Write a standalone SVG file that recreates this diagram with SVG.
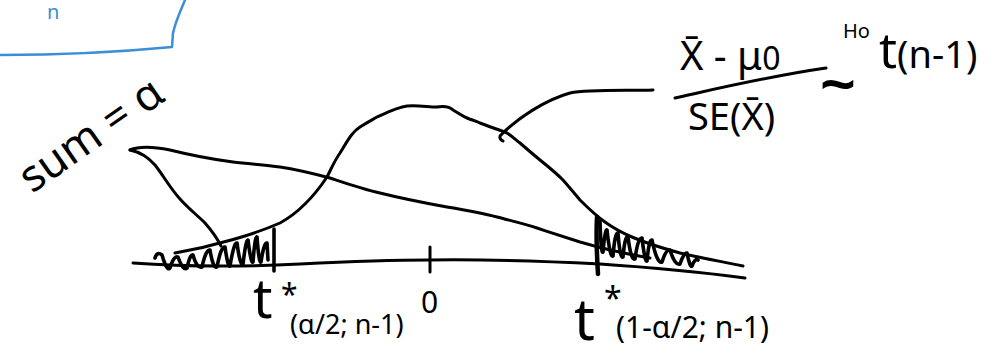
<svg xmlns="http://www.w3.org/2000/svg" width="1003" height="360" viewBox="0 0 1003 360">
<style>
.ink{fill:none;stroke:#000;stroke-width:3;stroke-linecap:round;stroke-linejoin:round}
.hatch{fill:none;stroke:#000;stroke-width:3.6;stroke-linecap:round;stroke-linejoin:round}
.blue{fill:none;stroke:#3a8fd6;stroke-width:2.5;stroke-linecap:round;stroke-linejoin:round}
.hw{font-family:"Noto Sans","DejaVu Sans",sans-serif;fill:#000}
</style>
<rect width="1003" height="360" fill="#fff"/>
<!-- blue partial box -->
<g id="blue-box">
<path class="blue" d="M0,55 C60,55 120,52 172,47 L173,33 C176,20 181,10 185,0"/>
<text x="47" y="19" class="hw" font-size="20" style="fill:#3a8fd6">n</text>
</g>
<!-- curves -->
<g id="curves">
<path id="axis" class="ink" d="M133,263 C200,268 260,266 300,264 C360,261 400,260 430,260 C500,259 560,262 600,264 C660,268 700,272 745,278"/>
<path id="bell" class="ink" d="M175,253 C215,246 255,234 280,223 C300,212 315,195 327,177 C333,165 335,160 340,153 C348,140 352,132 360,127 C368,122 372,120 377,117 C390,111 398,107 407,106 C418,105 428,107 437,107 C444,106 450,107 453,110 C460,114 462,116 467,118 C472,120 476,121 480,123 C490,127 500,130 507,133 C512,136 516,140 520,143 C528,150 534,155 540,160 C550,168 557,174 563,180 C570,188 575,194 580,200 C588,208 595,215 605,222 C620,233 640,242 680,253 C705,259 725,262 743,266"/>
<path id="broad" class="ink" d="M130,150 C137,147 150,146 170,150 C190,155 210,159 233,162 C250,164 265,165 280,167 C300,170 315,174 330,178 C345,183 362,189 380,193 C400,198 425,203 447,207 C465,210 482,213 497,217 C512,221 525,224 537,228 C552,233 568,238 580,242 C600,248 620,253 650,258"/>
<path id="cusp-tail" class="ink" d="M130,150 C140,152 147,156 155,165 C163,175 170,188 180,199 C190,210 197,215 205,223 C212,231 217,238 221,246"/>
<path id="pointer" class="ink" d="M503,141 C499,139 499,136 502,134 C518,118 545,100 570,93 C590,89 630,91 653,90"/>
</g>
<!-- ticks -->
<g id="ticks">
<path class="hatch" d="M274,229 L274,271"/>
<path class="ink" d="M430,247 L430,272"/>
<path class="hatch" d="M597,217 C596,235 597,258 598,274" style="stroke-width:4.5"/>
</g>
<!-- hatching -->
<g id="hatching">
<path class="hatch" d="M155,258 Q157,251 162,255 Q167,272 170,268 Q174,255 178,257 Q183,271 187,268 Q190,254 193,255 Q197,269 202,267 Q206,249 210,250 Q213,269 217,267 Q221,246 225,247 Q228,268 230,266 Q234,242 237,243 Q240,266 243,264 Q246,239 248,240 Q251,264 253,262 Q255,236 257,237 Q259,264 261,262 Q264,242 267,243 Q268,260 268,260"/>
<path class="hatch" d="M600,221 Q601,255 603,252 Q605,229 607,230 Q610,258 613,256 Q615,232 618,233 Q620,259 623,257 Q625,235 628,237 Q631,261 635,259 Q638,237 642,238 Q645,263 647,261 Q649,239 652,240 Q657,264 662,262 Q666,249 670,250 Q675,266 680,264 Q684,252 687,253 Q690,268 692,266 Q695,258 698,260"/>
</g>
<!-- labels -->
<g id="label-sum">
<text class="hw" font-size="44" transform="translate(32,194) rotate(-35)">sum = α</text>
</g>
<g id="label-left-t">
<text class="hw" x="253" y="318" font-size="54">t</text>
<text class="hw" x="281" y="305" font-size="30">*</text>
<text class="hw" x="290" y="334" font-size="27">(α/2; n-1)</text>
</g>
<g id="label-zero">
<text class="hw" x="421" y="313" font-size="30">0</text>
</g>
<g id="label-right-t">
<text class="hw" x="574" y="340" font-size="58">t</text>
<text class="hw" x="604" y="310" font-size="32">*</text>
<text class="hw" x="616" y="338" font-size="30">(1-α/2; n-1)</text>
</g>
<g id="formula">
<text class="hw" x="680" y="70" font-size="40">X̄ - μ<tspan font-size="32">0</tspan></text>
<path class="ink" d="M675,98 C720,88 770,76 826,68"/>
<text class="hw" x="688" y="130" font-size="38">SE(X̄)</text>
<text class="hw" x="843" y="38" font-size="20">Ho</text>
<text x="821" y="104" font-size="58" font-family="'Liberation Sans',sans-serif" fill="#000" stroke="#000" stroke-width="2">~</text>
<text class="hw" x="879" y="68" font-size="50">t<tspan font-size="38">(n-1)</tspan></text>
</g>
</svg>
